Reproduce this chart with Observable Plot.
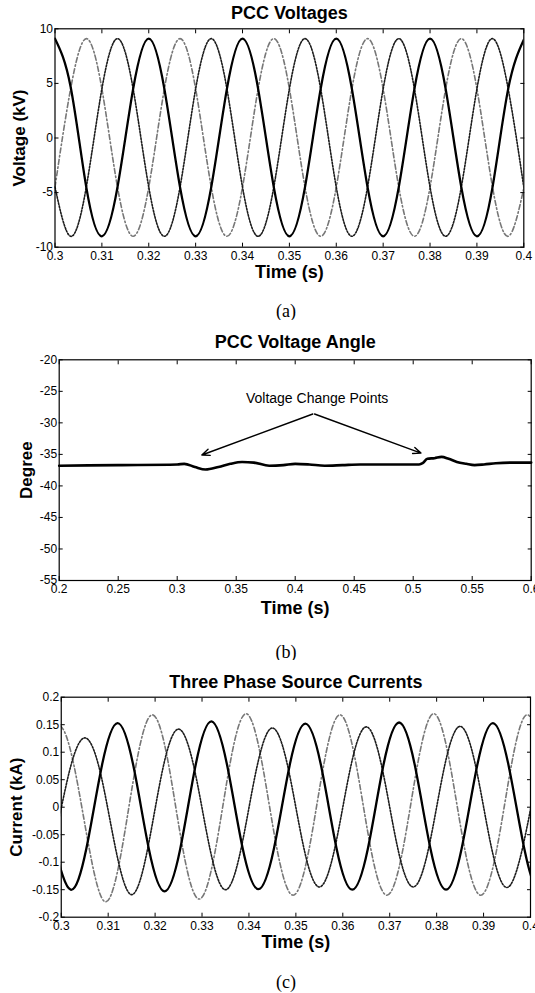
<!DOCTYPE html>
<html><head><meta charset="utf-8">
<script src="https://cdn.jsdelivr.net/npm/d3@7"></script>
<script src="https://cdn.jsdelivr.net/npm/@observablehq/plot@0.6"></script>
<style>
html,body{margin:0;padding:0;background:#fff;}
#page{position:relative;width:535px;height:993px;overflow:hidden;background:#fff;}
.panel{position:absolute;left:0;width:535px;}
.cap{position:absolute;left:236px;width:100px;text-align:center;font-family:"Liberation Serif","Times New Roman",serif;font-size:18px;line-height:20px;color:#000;}
</style></head><body>
<div id="page">
  <div class="panel" id="pa" style="top:0px"></div>
  <div class="cap" style="top:301px">(a)</div>
  <div class="panel" id="pb" style="top:320px"></div>
  <div class="cap" style="top:642px">(b)</div>
  <div class="panel" id="pc" style="top:660px"></div>
  <div class="cap" style="top:972px">(c)</div>
</div>
<script>
// ---------- Panel (a): PCC Voltages ----------
const titleA = "PCC Voltages";
const xTicksA = [0.3, 0.31, 0.32, 0.33, 0.34, 0.35, 0.36, 0.37, 0.38, 0.39, 0.4];
const yTicksA = [-10, -5, 0, 5, 10];
const tA = [0.3, 0.30333, 0.30667, 0.31, 0.31333, 0.31667, 0.32, 0.32333, 0.32667, 0.33,
  0.33333, 0.33667, 0.34, 0.34333, 0.34667, 0.35, 0.35333, 0.35667, 0.36, 0.36333,
  0.36667, 0.37, 0.37333, 0.37667, 0.38, 0.38333, 0.38667, 0.39, 0.39333, 0.39667, 0.4];
const vaSolid = [9.1, 4.7, -4.5, -9.0, -4.5, 4.5, 9.1, 4.5, -4.5, -9.0,
  -4.5, 4.5, 9.1, 4.5, -4.5, -9.0, -4.5, 4.5, 9.1, 4.5,
  -4.5, -9.0, -4.5, 4.5, 9.1, 4.5, -4.5, -9.0, -4.5, 4.5, 9.0];
const vaGray = [-4.5, 4.5, 9.1, 4.5, -4.5, -9.0, -4.5, 4.5, 9.1, 4.5,
  -4.5, -9.0, -4.5, 4.5, 9.1, 4.5, -4.5, -9.0, -4.5, 4.5,
  9.1, 4.5, -4.5, -9.0, -4.5, 4.5, 9.1, 4.5, -4.5, -9.0, -4.6];
const vaDot = [-4.5, -9.0, -4.5, 4.5, 9.1, 4.5, -4.5, -9.0, -4.5, 4.5,
  9.1, 4.5, -4.5, -9.0, -4.5, 4.5, 9.1, 4.5, -4.5, -9.0,
  -4.5, 4.5, 9.1, 4.5, -4.5, -9.0, -4.5, 4.5, 9.1, 4.5, -4.5];

// ---------- Panel (b): PCC Voltage Angle ----------
const titleB = "PCC Voltage Angle";
const xTicksB = [0.2, 0.25, 0.3, 0.35, 0.4, 0.45, 0.5, 0.55, 0.6];
const yTicksB = [-55, -50, -45, -40, -35, -30, -25, -20];
const tB = [0.2, 0.25, 0.3, 0.306, 0.315, 0.324, 0.335, 0.345, 0.355, 0.365, 0.378, 0.39,
  0.4, 0.412, 0.425, 0.44, 0.455, 0.47, 0.49, 0.505, 0.508, 0.512, 0.518, 0.524, 0.53,
  0.537, 0.545, 0.552, 0.56, 0.57, 0.585, 0.6];
const degB = [-36.8, -36.7, -36.6, -36.5, -37.0, -37.4, -37.0, -36.5, -36.2, -36.3, -36.8, -36.7,
  -36.5, -36.6, -36.8, -36.7, -36.6, -36.6, -36.6, -36.6, -36.4, -35.7, -35.6, -35.4, -35.7,
  -36.2, -36.5, -36.7, -36.6, -36.4, -36.3, -36.3];
const noteText = ["Voltage Change Points"];
const noteX = [0.4186];
const noteY = [-26.1];
const arrX1 = [0.4149, 0.4164];
const arrY1 = [-28.6, -28.6];
const arrX2 = [0.3209, 0.5066];
const arrY2 = [-35.1, -34.8];

// ---------- Panel (c): Three Phase Source Currents ----------
const titleC = "Three Phase Source Currents";
const xTicksC = [0.3, 0.31, 0.32, 0.33, 0.34, 0.35, 0.36, 0.37, 0.38, 0.39, 0.4];
const yTicksC = [-0.2, -0.15, -0.1, -0.05, 0, 0.05, 0.1, 0.15, 0.2];
const tcSolid = [0.29867, 0.302, 0.30533, 0.30867, 0.312, 0.31533, 0.31867, 0.322, 0.32533, 0.32867,
  0.332, 0.33533, 0.33867, 0.342, 0.34533, 0.34867, 0.352, 0.35533, 0.35867, 0.362,
  0.36533, 0.36867, 0.372, 0.37533, 0.37867, 0.382, 0.38533, 0.38867, 0.392, 0.39533,
  0.39867, 0.402, 0.40533];
const vcSolid = [-0.075, -0.150, -0.076, 0.076, 0.153, 0.077, -0.076, -0.153, -0.077, 0.078,
  0.156, 0.077, -0.075, -0.149, -0.075, 0.076, 0.152, 0.077, -0.075, -0.150,
  -0.076, 0.077, 0.154, 0.077, -0.075, -0.150, -0.075, 0.077, 0.153, 0.076,
  -0.075, -0.150, -0.075];
const tcGray = [0.29607, 0.2994, 0.30273, 0.30607, 0.3094, 0.31273, 0.31607, 0.3194, 0.32273, 0.32607,
  0.3294, 0.33273, 0.33607, 0.3394, 0.34273, 0.34607, 0.3494, 0.35273, 0.35607, 0.3594,
  0.36273, 0.36607, 0.3694, 0.37273, 0.37607, 0.3794, 0.38273, 0.38607, 0.3894, 0.39273,
  0.39607, 0.3994, 0.40273];
const vcGray = [0.074, 0.148, 0.075, -0.080, -0.172, -0.085, 0.083, 0.168, 0.084, -0.083,
  -0.167, -0.083, 0.084, 0.170, 0.083, -0.080, -0.160, -0.080, 0.083, 0.168,
  0.083, -0.080, -0.160, -0.080, 0.084, 0.170, 0.083, -0.080, -0.160, -0.080,
  0.083, 0.168, 0.084];
const tcDot = [0.295, 0.29833, 0.30167, 0.305, 0.30833, 0.31167, 0.315, 0.31833, 0.32167, 0.325,
  0.32833, 0.33167, 0.335, 0.33833, 0.34167, 0.345, 0.34833, 0.35167, 0.355, 0.35833,
  0.36167, 0.365, 0.36833, 0.37167, 0.375, 0.37833, 0.38167, 0.385, 0.38833, 0.39167,
  0.395, 0.39833, 0.40167];
const vcDot = [-0.125, -0.062, 0.063, 0.126, 0.063, -0.079, -0.159, -0.079, 0.071, 0.142,
  0.071, -0.075, -0.150, -0.075, 0.072, 0.144, 0.072, -0.073, -0.145, -0.073,
  0.073, 0.146, 0.073, -0.073, -0.145, -0.073, 0.074, 0.147, 0.074, -0.073,
  -0.146, -0.073, 0.073];

const labelTime = "Time (s)";
const labelVolt = "Voltage (kV)";
const labelDeg = "Degree";
const labelCur = "Current (kA)";

// ---------- helpers ----------
const FONT = '"Liberation Sans", Arial, Helvetica, sans-serif';
const fmt = d => String(d);
const GRAY = "#777777";
const DOT = "#1c1c1c";

function frameAxes(xTicks, yTicks) {
  return [
    Plot.axisX(xTicks, {anchor: "bottom", tickSize: -4, tickPadding: 8, tickFormat: fmt, label: null, fontSize: 12}),
    Plot.axisX(xTicks, {anchor: "top", tickSize: -4, tickFormat: () => "", label: null}),
    Plot.axisY(yTicks, {anchor: "left", tickSize: -4, tickPadding: 6, tickFormat: fmt, label: null, fontSize: 12}),
    Plot.axisY(yTicks, {anchor: "right", tickSize: -4, tickFormat: () => "", label: null}),
    Plot.frame({stroke: "black", strokeWidth: 1.2})
  ];
}
function labels(title, titleDy, xl, xlDy, yl, ylDx) {
  const common = {textAnchor: "middle", lineAnchor: "middle", fontWeight: "bold", fill: "black"};
  return [
    Plot.text([title], {...common, frameAnchor: "top", dy: titleDy, fontSize: 18}),
    Plot.text([xl], {...common, frameAnchor: "bottom", dy: xlDy, fontSize: 18}),
    Plot.text([yl], {...common, frameAnchor: "left", dx: ylDx, rotate: -90, fontSize: 17})
  ];
}
const style = {fontFamily: FONT, fontSize: "12px", color: "black", background: "white"};

// ---------- Panel (a) ----------
const rowsA = tA.map((t, i) => ({t, s: vaSolid[i], g: vaGray[i], d: vaDot[i]}));
const plotA = Plot.plot({
  width: 535, height: 292,
  marginTop: 28.3, marginBottom: 45.3, marginLeft: 54.5, marginRight: 11.7,
  style,
  x: {domain: [0.3, 0.4]},
  y: {domain: [-10, 10]},
  marks: [
    Plot.line(rowsA, {x: "t", y: "g", stroke: GRAY, strokeWidth: 1.6, strokeDasharray: "5,2.5,1.5,2.5", curve: "natural", clip: true}),
    Plot.line(rowsA, {x: "t", y: "d", stroke: DOT, strokeWidth: 1.6, strokeDasharray: "1.6,1.6", curve: "natural", clip: true}),
    Plot.line(rowsA, {x: "t", y: "s", stroke: "black", strokeWidth: 2.3, curve: "natural", clip: true}),
    ...frameAxes(xTicksA, yTicksA),
    ...labels(titleA, -15.6, labelTime, 25.5, labelVolt, -35)
  ]
});
document.getElementById("pa").appendChild(plotA);

// ---------- Panel (b) ----------
const rowsB = tB.map((t, i) => ({t, v: degB[i]}));
const arrows = arrX1.map((x1, i) => ({x1, y1: arrY1[i], x2: arrX2[i], y2: arrY2[i]}));
const notes = noteText.map((s, i) => ({s, x: noteX[i], y: noteY[i]}));
const plotB = Plot.plot({
  width: 535, height: 320,
  marginTop: 39.3, marginBottom: 60, marginLeft: 58.7, marginRight: 4.3,
  style,
  x: {domain: [0.2, 0.6]},
  y: {domain: [-55, -20]},
  marks: [
    Plot.line(rowsB, {x: "t", y: "v", stroke: "black", strokeWidth: 2.6, curve: "monotone-x"}),
    Plot.arrow(arrows, {x1: "x1", y1: "y1", x2: "x2", y2: "y2", stroke: "black", strokeWidth: 1.4, headLength: 9, headAngle: 45}),
    Plot.text(notes, {x: "x", y: "y", text: "s", fontSize: 14, fill: "black"}),
    ...frameAxes(xTicksB, yTicksB),
    ...labels(titleB, -17.6, labelTime, 27.5, labelDeg, -32.3)
  ]
});
document.getElementById("pb").appendChild(plotB);

// ---------- Panel (c) ----------
const rowsCs = tcSolid.map((t, i) => ({t, v: vcSolid[i]}));
const rowsCg = tcGray.map((t, i) => ({t, v: vcGray[i]}));
const rowsCd = tcDot.map((t, i) => ({t, v: vcDot[i]}));
const plotC = Plot.plot({
  width: 535, height: 300,
  marginTop: 36.7, marginBottom: 43.3, marginLeft: 60.75, marginRight: 5,
  style,
  x: {domain: [0.3, 0.4]},
  y: {domain: [-0.2, 0.2]},
  marks: [
    Plot.line(rowsCg, {x: "t", y: "v", stroke: GRAY, strokeWidth: 1.6, strokeDasharray: "5,2.5,1.5,2.5", curve: "natural", clip: true}),
    Plot.line(rowsCd, {x: "t", y: "v", stroke: DOT, strokeWidth: 1.6, strokeDasharray: "1.6,1.6", curve: "natural", clip: true}),
    Plot.line(rowsCs, {x: "t", y: "v", stroke: "black", strokeWidth: 2.3, curve: "natural", clip: true}),
    ...frameAxes(xTicksC, yTicksC),
    ...labels(titleC, -14.7, labelTime, 25.5, labelCur, -44.75)
  ]
});
document.getElementById("pc").appendChild(plotC);
</script>
</body></html>
